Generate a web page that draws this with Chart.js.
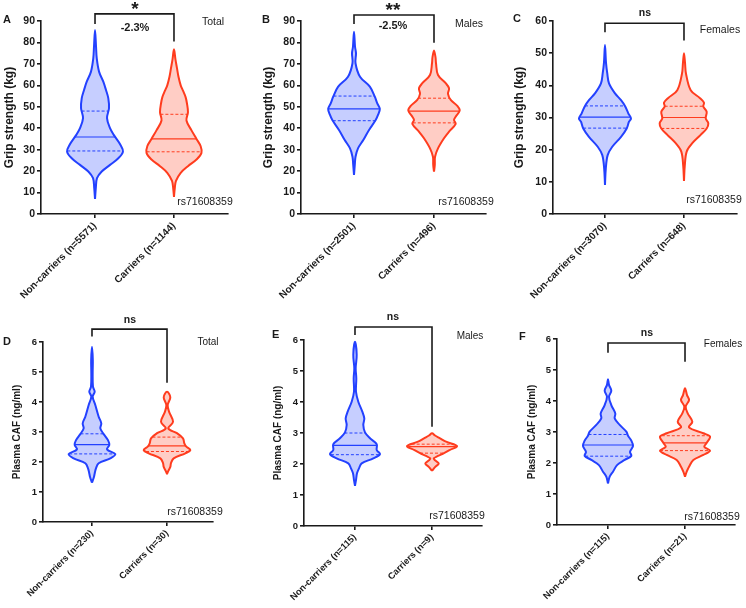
<!DOCTYPE html>
<html lang="en">
<head>
<meta charset="UTF-8" />
<title>Grip strength and plasma CAF by rs71608359</title>
<script src="https://cdn.jsdelivr.net/npm/chart.js"></script>
<style>
  body { margin: 0; background: #fff; }
  #wrap { position: relative; width: 746px; height: 608px; }
  canvas { position: absolute; left: 0; top: 0; }
</style>
</head>
<body>
<div id="wrap">
  <canvas id="cA" width="746" height="608"></canvas>
  <canvas id="cB" width="746" height="608"></canvas>
  <canvas id="cC" width="746" height="608"></canvas>
  <canvas id="cD" width="746" height="608"></canvas>
  <canvas id="cE" width="746" height="608"></canvas>
  <canvas id="cF" width="746" height="608"></canvas>
</div>
<script>
// ---- data: violin outlines (value, half width in category units) and quartiles ----
// A - grip strength, total
const gripAllLabels = ['Non-carriers (n=5571)', 'Carriers (n=1144)'];
const gripAllNonY = [7, 12, 16.7, 19.8, 22.9, 26, 29.1, 32.2, 36.9, 40, 44.7, 49.3, 54, 57.8, 61.7, 66.4, 72.6, 78, 85.8];
const gripAllNonW = [0, 0.010, 0.025, 0.085, 0.19, 0.295, 0.354, 0.323, 0.237, 0.19, 0.152, 0.177, 0.168, 0.139, 0.105, 0.051, 0.022, 0.013, 0];
const gripAllNonQ = [29.4, 35.9, 48];
const gripAllCarY = [8, 12, 15.4, 19.2, 22.3, 25.4, 28.5, 31.6, 35, 39, 43.6, 47.5, 51.4, 54.4, 57.5, 60, 64, 68, 72, 76.8];
const gripAllCarW = [0, 0.010, 0.025, 0.085, 0.177, 0.285, 0.348, 0.338, 0.285, 0.222, 0.158, 0.177, 0.165, 0.148, 0.114, 0.085, 0.057, 0.038, 0.019, 0];
const gripAllCarQ = [29, 35, 46.5];
const gripAllBracket = [88.6, 93.3, 80.4];

// B - grip strength, males
const gripMaleLabels = ['Non-carriers (n=2501)', 'Carriers (n=496)'];
const gripMaleNonY = [18.2, 23, 26.7, 30.6, 34.5, 39.2, 43.8, 46.2, 49, 51.6, 54.7, 59.4, 64, 70.3, 75, 78, 85];
const gripMaleNonW = [0, 0.01, 0.019, 0.05, 0.116, 0.188, 0.271, 0.3, 0.323, 0.291, 0.26, 0.198, 0.075, 0.019, 0.025, 0.013, 0];
const gripMaleNonQ = [43.5, 49, 55];
const gripMaleCarY = [19.7, 23, 26.7, 30.6, 35.3, 38.4, 42, 43.8, 45.4, 48.2, 50.4, 53.2, 56, 58.6, 61, 64.8, 70.3, 73, 76.2];
const gripMaleCarW = [0, 0.01, 0.013, 0.05, 0.125, 0.188, 0.271, 0.25, 0.271, 0.321, 0.291, 0.209, 0.175, 0.188, 0.146, 0.05, 0.025, 0.019, 0];
const gripMaleCarQ = [42.5, 48, 54];
const gripMaleBracket = [88.6, 92.8, 79.9];

// C - grip strength, females
const gripFemLabels = ['Non-carriers (n=3070)', 'Carriers (n=648)'];
const gripFemNonY = [9, 14, 18.3, 20.9, 24, 26.6, 28.7, 29.7, 31.3, 33.6, 35.4, 37.5, 40.6, 43.7, 47, 52.5];
const gripFemNonW = [0, 0.01, 0.034, 0.092, 0.203, 0.275, 0.304, 0.329, 0.295, 0.253, 0.203, 0.127, 0.051, 0.029, 0.013, 0];
const gripFemNonQ = [26.7, 30.1, 33.6];
const gripFemCarY = [10.3, 15, 19.4, 22, 24.6, 26.6, 28.2, 29.7, 31.8, 33.4, 34.6, 36, 38.5, 43.7, 47, 50];
const gripFemCarW = [0, 0.01, 0.034, 0.105, 0.211, 0.287, 0.308, 0.275, 0.287, 0.244, 0.253, 0.203, 0.085, 0.025, 0.013, 0];
const gripFemCarQ = [26.6, 30, 33.5];
const gripFemBracket = [56.5, 59.3, 53.9];

// D - plasma CAF, total
const cafAllLabels = ['Non-carriers (n=230)', 'Carriers (n=30)'];
const cafAllNonY = [1.31, 1.51, 1.62, 1.79, 1.96, 2.12, 2.26, 2.42, 2.57, 2.73, 2.93, 3.12, 3.29, 3.51, 3.9, 4.18, 4.34, 4.51, 4.96, 5.4, 5.84];
const cafAllNonW = [0, 0.027, 0.036, 0.053, 0.089, 0.244, 0.311, 0.2, 0.231, 0.213, 0.156, 0.111, 0.124, 0.089, 0.044, 0.009, 0.036, 0.013, 0.009, 0.011, 0];
const cafAllNonQ = [2.27, 2.58, 2.94];
const cafAllCarY = [1.6, 1.68, 1.84, 1.96, 2.12, 2.29, 2.4, 2.51, 2.62, 2.79, 2.96, 3.12, 3.34, 3.68, 3.9, 4.16, 4.34];
const cafAllCarW = [0, 0.013, 0.044, 0.053, 0.089, 0.244, 0.311, 0.257, 0.231, 0.213, 0.133, 0.017, 0.08, 0.027, 0.009, 0.044, 0];
const cafAllCarQ = [2.35, 2.54, 2.83];
const cafAllBracket = [6.18, 6.43, 4.64];

// E - plasma CAF, males
const cafMaleLabels = ['Non-carriers (n=115)', 'Carriers (n=9)'];
const cafMaleNonY = [1.3, 1.48, 1.7, 1.86, 2.02, 2.18, 2.32, 2.45, 2.64, 2.83, 3.02, 3.26, 3.47, 3.69, 4.01, 4.33, 4.76, 5.09, 5.52, 5.94];
const cafMaleNonW = [0, 0.013, 0.026, 0.052, 0.087, 0.238, 0.325, 0.282, 0.282, 0.195, 0.13, 0.108, 0.121, 0.095, 0.043, 0.013, 0.017, 0.009, 0.022, 0];
const cafMaleNonQ = [2.3, 2.6, 3.0];
const cafMaleCarY = [1.78, 1.9, 2.02, 2.12, 2.18, 2.26, 2.35, 2.45, 2.58, 2.72, 2.83, 2.92, 2.99];
const cafMaleCarW = [0, 0.039, 0.087, 0.039, 0.022, 0.078, 0.156, 0.227, 0.325, 0.182, 0.104, 0.039, 0];
const cafMaleCarQ = [2.35, 2.56, 2.64];
const cafMaleBracket = [6.16, 6.42, 3.2];

// F - plasma CAF, females
const cafFemLabels = ['Non-carriers (n=115)', 'Carriers (n=21)'];
const cafFemNonY = [1.34, 1.56, 1.72, 1.94, 2.1, 2.23, 2.36, 2.55, 2.72, 2.88, 3.01, 3.23, 3.44, 3.6, 3.87, 4.14, 4.33, 4.52, 4.7];
const cafFemNonW = [0, 0.022, 0.065, 0.121, 0.217, 0.303, 0.286, 0.325, 0.303, 0.26, 0.238, 0.152, 0.087, 0.095, 0.043, 0.013, 0.043, 0.013, 0];
const cafFemNonQ = [2.22, 2.58, 2.92];
const cafFemCarY = [1.56, 1.72, 1.88, 2.1, 2.26, 2.4, 2.52, 2.65, 2.85, 2.96, 3.15, 3.33, 3.6, 3.82, 4.03, 4.19, 4.41];
const cafFemCarW = [0, 0.022, 0.052, 0.108, 0.238, 0.325, 0.251, 0.282, 0.325, 0.238, 0.052, 0.095, 0.035, 0.009, 0.052, 0.026, 0];
const cafFemCarQ = [2.4, 2.65, 2.88];
const cafFemBracket = [5.56, 5.87, 5.27];

const snpLabel = 'rs71608359';

// ---- styling ----
const FONT = '"Liberation Sans", Arial, Helvetica, sans-serif';
Chart.defaults.font.family = FONT;
const INK = '#1a1a1a';
const BLUE = 'rgb(35,65,255)';
const BLUE_FILL = 'rgba(35,65,255,0.26)';
const RED = 'rgb(255,60,30)';
const RED_FILL = 'rgba(255,60,30,0.26)';

// page layout of each panel (plot area in page pixels)
const panels = [
  { id: 'cA', letter: 'A', group: 'Total', yTitle: 'Grip strength (kg)', yMax: 90, step: 10, top: true,
    labels: gripAllLabels, non: [gripAllNonY, gripAllNonW, gripAllNonQ], car: [gripAllCarY, gripAllCarW, gripAllCarQ],
    bracket: gripAllBracket, sig: '*', pct: '-2.3%',
    area: { l: 41, r: 228, t: 21, b: 214, titleX: 10 }, xr: [-0.684, 1.684],
    pos: { letter: [3, 20], group: [213, 22], rs: [205, 202], sig: [135, 15], pct: [135, 28] } },
  { id: 'cB', letter: 'B', group: 'Males', yTitle: 'Grip strength (kg)', yMax: 90, step: 10, top: true,
    labels: gripMaleLabels, non: [gripMaleNonY, gripMaleNonW, gripMaleNonQ], car: [gripMaleCarY, gripMaleCarW, gripMaleCarQ],
    bracket: gripMaleBracket, sig: '**', pct: '-2.5%',
    area: { l: 301, r: 486, t: 21, b: 214, titleX: 269 }, xr: [-0.6625, 1.65],
    pos: { letter: [262, 20], group: [469, 24], rs: [466, 202], sig: [393, 16], pct: [393, 26] } },
  { id: 'cC', letter: 'C', group: 'Females', yTitle: 'Grip strength (kg)', yMax: 60, step: 10, top: true,
    labels: gripFemLabels, non: [gripFemNonY, gripFemNonW, gripFemNonQ], car: [gripFemCarY, gripFemCarW, gripFemCarQ],
    bracket: gripFemBracket, sig: 'ns', pct: null,
    area: { l: 553, r: 737, t: 21, b: 214, titleX: 520 }, xr: [-0.658, 1.671],
    pos: { letter: [513, 19], group: [720, 30], rs: [714, 200], sig: [645, 13] } },
  { id: 'cD', letter: 'D', group: 'Total', yTitle: 'Plasma CAF (ng/ml)', yMax: 6, step: 1, top: false,
    labels: cafAllLabels, non: [cafAllNonY, cafAllNonW, cafAllNonQ], car: [cafAllCarY, cafAllCarW, cafAllCarQ],
    bracket: cafAllBracket, sig: 'ns', pct: null,
    area: { l: 43, r: 213, t: 342, b: 522, titleX: 17 }, xr: [-0.653, 1.613],
    pos: { letter: [3, 342], group: [208, 342], rs: [195, 512], sig: [130, 320] } },
  { id: 'cE', letter: 'E', group: 'Males', yTitle: 'Plasma CAF (ng/ml)', yMax: 6, step: 1, top: false,
    labels: cafMaleLabels, non: [cafMaleNonY, cafMaleNonW, cafMaleNonQ], car: [cafMaleCarY, cafMaleCarW, cafMaleCarQ],
    bracket: cafMaleBracket, sig: 'ns', pct: null,
    area: { l: 304, r: 482, t: 340, b: 526, titleX: 278 }, xr: [-0.662, 1.649],
    pos: { letter: [272, 335], group: [470, 336], rs: [457, 516], sig: [393, 317] } },
  { id: 'cF', letter: 'F', group: 'Females', yTitle: 'Plasma CAF (ng/ml)', yMax: 6, step: 1, top: false,
    labels: cafFemLabels, non: [cafFemNonY, cafFemNonW, cafFemNonQ], car: [cafFemCarY, cafFemCarW, cafFemCarQ],
    bracket: cafFemBracket, sig: 'ns', pct: null,
    area: { l: 557, r: 735, t: 339, b: 525, titleX: 532 }, xr: [-0.662, 1.649],
    pos: { letter: [519, 337], group: [723, 344], rs: [712, 517], sig: [647, 333] } }
];

// closed outline: left side bottom->top, then right side back down
function violinPoints(c, ys, ws) {
  const pts = [];
  for (let i = 0; i < ys.length; i++) pts.push({ x: c - ws[i], y: ys[i] });
  for (let i = ys.length - 2; i >= 0; i--) pts.push({ x: c + ws[i], y: ys[i] });
  return pts;
}

function widthAt(ys, ws, v) {
  for (let i = 0; i < ys.length - 1; i++) {
    if (v >= ys[i] && v <= ys[i + 1]) {
      const f = (v - ys[i]) / (ys[i + 1] - ys[i]);
      return ws[i] + f * (ws[i + 1] - ws[i]);
    }
  }
  return 0;
}

function violinDatasets(c, set, stroke, fill) {
  const [ys, ws, q] = set;
  const out = [{
    data: violinPoints(c, ys, ws),
    borderColor: stroke, backgroundColor: fill, borderWidth: 2,
    fill: 'shape', tension: 0.35, pointRadius: 0, order: 2
  }];
  q.forEach((v, i) => {
    const w = widthAt(ys, ws, v);
    out.push({
      data: [{ x: c - w, y: v }, { x: c + w, y: v }],
      borderColor: stroke, borderWidth: i === 1 ? 1.2 : 1,
      borderDash: i === 1 ? [] : [3, 2],
      fill: false, tension: 0, pointRadius: 0, order: 1
    });
  });
  return out;
}

function textPlugin(p) {
  const big = p.top;
  return {
    id: 'panelText' + p.letter,
    afterDraw(chart) {
      const ctx = chart.ctx;
      ctx.save();
      ctx.fillStyle = INK;
      ctx.textBaseline = 'middle';
      ctx.textAlign = 'left';
      ctx.font = 'bold 11px ' + FONT;
      ctx.fillText(p.letter, p.pos.letter[0], p.pos.letter[1]);
      ctx.textAlign = 'center';
      ctx.font = (big ? '10.5px ' : '10px ') + FONT;
      ctx.fillText(p.group, p.pos.group[0], p.pos.group[1]);
      ctx.font = '10.5px ' + FONT;
      ctx.fillText(snpLabel, p.pos.rs[0], p.pos.rs[1]);
      if (p.sig.startsWith('*')) {
        ctx.font = 'bold 19px ' + FONT;
        ctx.textBaseline = 'alphabetic';
        ctx.fillText(p.sig, p.pos.sig[0], p.pos.sig[1]);
        ctx.textBaseline = 'middle';
      } else {
        ctx.font = 'bold 10.5px ' + FONT;
        ctx.fillText(p.sig, p.pos.sig[0], p.pos.sig[1]);
      }
      if (p.pct) {
        ctx.font = 'bold 11px ' + FONT;
        ctx.fillText(p.pct, p.pos.pct[0], p.pos.pct[1]);
      }
      ctx.restore();
    }
  };
}

panels.forEach(p => {
  const a = p.area;
  const tickSize = p.top ? 10.5 : 9.5;
  const xTickSize = p.top ? 10 : 9.2;
  const titleSize = p.top ? 12 : 10;
  const titleLeft = a.titleX - titleSize * 0.6;
  const axisW = a.l - titleLeft;
  const axisH = 608 - a.b;

  const datasets = []
    .concat(violinDatasets(0, p.non, BLUE, BLUE_FILL))
    .concat(violinDatasets(1, p.car, RED, RED_FILL));
  const [bl, bt, br] = p.bracket;
  datasets.push({
    data: [{ x: 0, y: bl }, { x: 0, y: bt }, { x: 1, y: bt }, { x: 1, y: br }],
    borderColor: INK, borderWidth: 1.6, fill: false, tension: 0,
    pointRadius: 0, clip: false, order: 0
  });

  const axisLine = { display: true, color: INK, width: 1.6 };
  const tickMarks = { display: true, drawOnChartArea: false, drawTicks: true, tickLength: 4, color: INK, lineWidth: 1.6 };

  new Chart(document.getElementById(p.id), {
    type: 'line',
    data: { datasets },
    options: {
      responsive: false,
      animation: false,
      layout: { padding: { left: titleLeft, top: a.t, right: 746 - a.r, bottom: 0 } },
      plugins: { legend: { display: false }, tooltip: { enabled: false } },
      scales: {
        x: {
          type: 'linear', min: p.xr[0], max: p.xr[1],
          afterBuildTicks: s => { s.ticks = [{ value: 0 }, { value: 1 }]; },
          afterFit: s => { s.height = axisH; },
          ticks: {
            callback: v => p.labels[v],
            autoSkip: false, minRotation: 45, maxRotation: 45,
            color: INK, padding: 2, font: { size: xTickSize, weight: 'bold' }
          },
          grid: tickMarks, border: axisLine
        },
        y: {
          min: 0, max: p.yMax,
          afterFit: s => { s.width = axisW; },
          ticks: { stepSize: p.step, color: INK, padding: 2, font: { size: tickSize, weight: 'bold' } },
          grid: tickMarks, border: axisLine,
          title: { display: true, text: p.yTitle, color: INK, padding: 0, font: { size: titleSize, weight: 'bold' } }
        }
      }
    },
    plugins: [textPlugin(p)]
  });
});
</script>
</body>
</html>
